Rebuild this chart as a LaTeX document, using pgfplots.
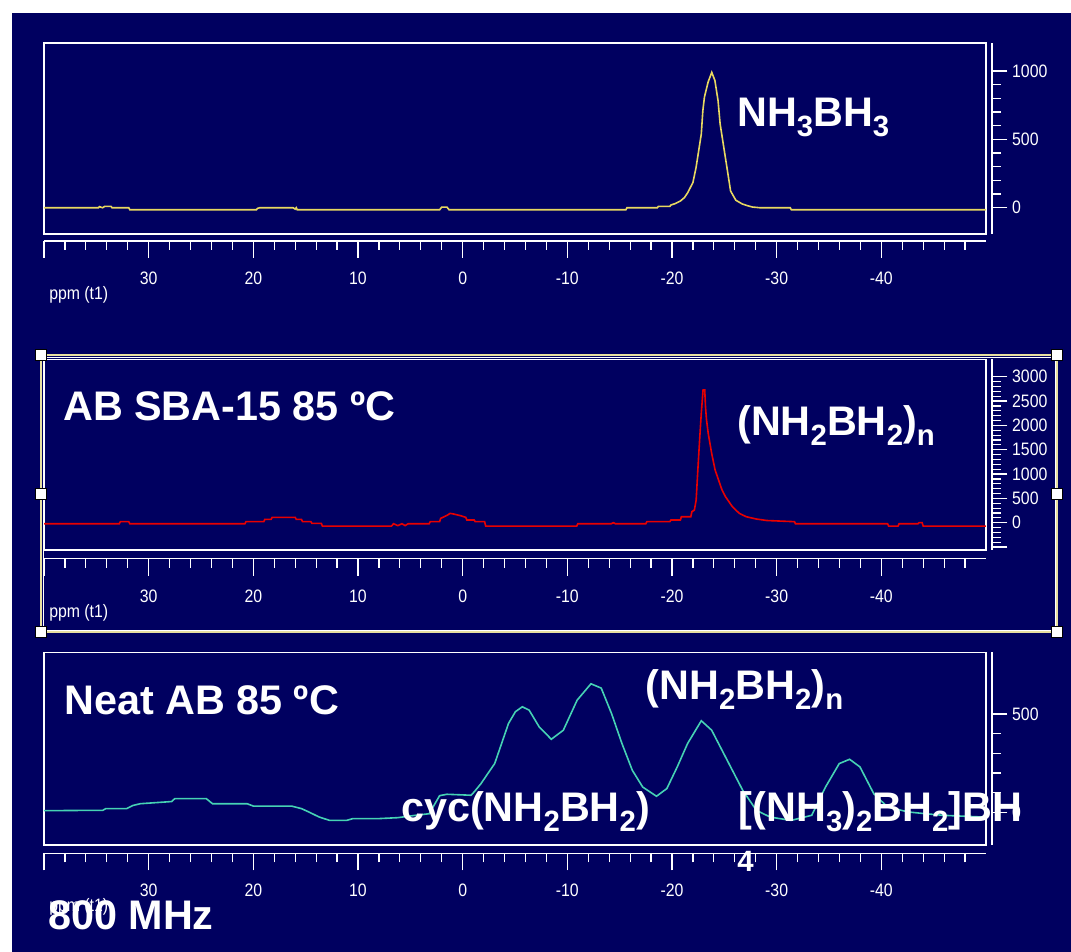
\documentclass[border=0pt]{standalone}
\usepackage{fontspec}
\setmainfont{Liberation Sans}
\newfontfamily\tickfont[FakeStretch=0.88]{Liberation Sans}
\usepackage{pgfplots}
\pgfplotsset{compat=1.18}
\definecolor{navy}{RGB}{0,0,96}
\definecolor{specyellow}{RGB}{232,216,96}
\definecolor{specred}{RGB}{232,0,0}
\definecolor{specturq}{RGB}{70,210,180}
\definecolor{framecream}{RGB}{232,224,160}
\newcommand\lab{\fontsize{31}{31}\selectfont\bfseries}
\newcommand\sub[1]{\raisebox{-7.5pt}{\fontsize{22}{22}\selectfont\bfseries #1}}
\newcommand\tf{\tickfont\fontsize{13.5}{13.5}\selectfont}
\pgfplotsset{
  boxax/.style={scale only axis, width=706.5pt, xmin=-50, xmax=40, x dir=reverse,
    xtick=\empty, ytick=\empty, axis line style={white, line width=1.2pt},
    anchor=south west, clip=true},
  yax/.style={scale only axis, width=1pt, xmin=0, xmax=1, axis x line=none,
    axis y line*=right, ytick align=outside, anchor=south east,
    axis line style={white, line width=1.1pt}, tick style={white, line width=0.9pt},
    major tick length=11.6pt, minor tick length=6.5pt,
    yticklabel style={font=\tf, text=white},
    minor y tick num=4, scaled y ticks=false,
    /pgf/number format/1000 sep={}, /pgf/number format/assume math mode=true},
  xax/.style={scale only axis, width=706.5pt, height=1pt, xmin=-50, xmax=40,
    ymin=0, ymax=1, x dir=reverse, axis y line=none, axis x line*=bottom,
    xtick align=outside, anchor=south west,
    xtick={40,30,20,10,0,-10,-20,-30,-40},
    xticklabels={,30,20,10,0,-10,-20,-30,-40},
    minor xtick={-48,-46,...,38},
    axis line style={white, line width=1.1pt}, tick style={white, line width=0.9pt},
    major tick length=12.75pt, minor tick length=6.75pt,
    xticklabel style={font=\tf, text=white, yshift=-7pt}},
}
\begin{document}
\begin{tikzpicture}
\path[use as bounding box, fill=white] (0,0) rectangle (803.25pt,714pt);
\fill[navy] (9pt,0) rectangle (803.25pt,704.25pt);

% ---------------- Panel 1 ----------------
\begin{axis}[boxax, at={(33pt,538.5pt)}, height=143.25pt, ymin=-192, ymax=1205]
\addplot[specyellow, line width=1.2pt] coordinates {
(40,0) (34.8,0) (34.7,8) (34.4,0) (34.2,10) (33.6,10) (33.5,0) (31.9,0) (31.8,-15)
(19.7,-15) (19.6,-5) (19.4,0) (16.2,0) (16.0,-10) (15.9,0) (15.8,-15) (2.2,-15)
(2.0,5) (1.5,5) (1.3,-15) (-15.6,-15) (-15.7,0) (-18.6,0) (-18.7,10) (-19.8,10)
(-19.9,20) (-20.3,30) (-20.8,49) (-21.2,75) (-21.5,110) (-22.0,184) (-22.3,294) (-22.5,392)
(-22.8,539) (-22.95,711) (-23.1,809) (-23.45,919) (-23.8,990) (-24.1,931)
(-24.4,784) (-24.6,613) (-24.9,466) (-25.3,270) (-25.6,122) (-26.1,55) (-26.7,28)
(-27.2,15) (-27.7,5) (-28.4,0) (-31.3,0) (-31.4,-15) (-50,-15)};
\end{axis}
\begin{axis}[yax, at={(744pt,538.5pt)}, height=143.25pt, ymin=-192, ymax=1205,
  ytick={0,500,1000}]
\end{axis}
\begin{axis}[xax, at={(33pt,533.25pt)}]
\end{axis}

% ---------------- Panel 2 ----------------
\begin{axis}[boxax, at={(33pt,301.5pt)}, height=143pt, ymin=-561, ymax=3358]
\addplot[specred, line width=1.2pt] coordinates {
(40,-21) (32.8,-21) (32.7,21) (31.9,21) (31.8,-21) (20.8,-21) (20.7,21) (19.0,21)
(18.9,69) (18.3,69) (18.2,110) (16.0,110) (15.9,69) (15.4,69) (15.3,21) (14.5,21)
(14.4,-14) (13.5,-14) (13.4,-69) (6.8,-69) (6.6,-21) (6.2,-60) (5.8,-21) (5.5,-60)
(5.2,-21) (3.2,-21) (3.1,21) (2.2,21) (2.1,89) (1.5,150) (1.2,192) (0.9,180)
(0.2,144) (-0.3,110) (-0.4,55) (-1.1,55) (-1.2,21) (-2.1,21) (-2.2,-69) (-10.9,-69)
(-11.0,-21) (-14.2,-21) (-14.4,0) (-14.6,-21) (-17.5,-21) (-17.6,21) (-19.8,21)
(-19.9,55) (-20.8,55) (-20.9,123) (-21.8,123) (-21.9,226) (-22.14,260) (-22.31,466)
(-22.47,1084) (-22.64,1701) (-22.80,2250) (-22.97,2730) (-23.13,2730) (-23.2,2387)
(-23.3,2113) (-23.46,1838) (-23.79,1427) (-24.12,1084) (-24.45,878) (-24.78,672)
(-25.11,535) (-25.77,329) (-26.43,192) (-27.09,123) (-28.07,75) (-29.06,45)
(-31.7,21) (-31.8,-21) (-40.6,-21) (-40.7,-69) (-41.6,-69) (-41.7,-21) (-43.5,-21)
(-43.6,0) (-43.9,0) (-44.0,-69) (-50,-69)};
\end{axis}
\begin{axis}[yax, at={(744pt,301.5pt)}, height=143pt, ymin=-561, ymax=3358,
  ytick={-500,0,500,1000,1500,2000,2500,3000},
  yticklabels={,0,500,1000,1500,2000,2500,3000}]
\end{axis}
\begin{axis}[xax, at={(33pt,295pt)}]
\end{axis}

% ---------------- Panel 3 ----------------
\begin{axis}[boxax, at={(33pt,80.25pt)}, height=144.5pt, ymin=-166, ymax=814]
\addplot[specturq, line width=1.2pt] coordinates {
(40,8.5) (36,10) (34.4,10) (34.1,19) (32.1,19) (31.5,35) (30.8,44) (27.8,55)
(27.5,70) (24.5,70) (23.9,44) (20.6,44) (20,32) (16.35,32) (15.4,19) (14.7,2)
(13.7,-24) (12.7,-41) (11.1,-41) (10.5,-32) (8.1,-32) (6.2,-27) (4.5,-15) (3.2,-7)
(2.2,85) (1.5,92) (-0.8,87) (-1.1,104) (-1.75,146) (-2.4,197) (-3.06,248)
(-3.72,350) (-4.38,452) (-5.04,512) (-5.7,537) (-6.35,520) (-7.31,435) (-8.47,372)
(-9.62,418) (-10.94,571) (-12.26,654) (-13.24,632) (-14.23,502) (-15.22,350)
(-16.21,214) (-17.2,129) (-18.52,82) (-19.51,121) (-20.5,231) (-21.49,350)
(-22.8,466) (-23.79,418) (-24.78,316) (-25.77,214) (-26.76,112) (-28.07,10)
(-29.39,-24) (-31.37,-41) (-33.35,-15) (-34.67,129) (-35.98,248) (-36.97,270)
(-37.96,231) (-39.28,95) (-40.6,27) (-42.58,2) (-44.23,-7) (-45.87,-15) (-49.83,-24)};
\end{axis}
\begin{axis}[yax, at={(744pt,80.25pt)}, height=144.5pt, ymin=-166, ymax=814,
  ytick={0,500}]
\end{axis}
\begin{axis}[xax, at={(33pt,74pt)}]
\end{axis}

% ---------------- axis names ----------------
\node[anchor=base west, inner sep=0pt, text=white, font=\tf] at (36.75pt,489.5pt) {ppm (t1)};
\node[anchor=base west, inner sep=0pt, text=white, font=\tf] at (36.75pt,250.5pt) {ppm (t1)};
\node[anchor=base west, inner sep=0pt, text=white, font=\tf] at (36.75pt,30.5pt) {ppm (t1)};

% ---------------- selection frame on panel 2 ----------------
\draw[framecream, line width=1.2pt] (30.75pt,447.75pt) rectangle (792.75pt,240pt);
\draw[white, line width=0.5pt] (32.3pt,446.2pt) rectangle (791.2pt,241.5pt);
\foreach \hx/\hy in {30.75/447.75, 792.75/447.75, 30.75/343.5, 792.75/343.5, 30.75/240, 792.75/240}
  \draw[black, fill=white, line width=0.8pt] (\hx pt-4pt,\hy pt-4pt) rectangle (\hx pt+4pt,\hy pt+4pt);

% ---------------- annotations ----------------
\node[anchor=base west, inner sep=0pt, text=white, font=\lab] at (552.75pt,619pt) {NH\sub{3}BH\sub{3}};
\node[anchor=base west, inner sep=0pt, text=white, font=\lab] at (47.25pt,398.5pt) {AB SBA-15 85 ºC};
\node[anchor=base west, inner sep=0pt, text=white, font=\lab] at (552.75pt,387pt) {(NH\sub{2}BH\sub{2})\sub{n}};
\node[anchor=base west, inner sep=0pt, text=white, font=\lab] at (48pt,177.75pt) {Neat AB 85 ºC};
\node[anchor=base west, inner sep=0pt, text=white, font=\lab] at (484.1pt,189pt) {(NH\sub{2}BH\sub{2})\sub{n}};
\node[anchor=base west, inner sep=0pt, text=white, font=\lab] at (300.75pt,97.5pt) {cyc(NH\sub{2}BH\sub{2})};
\node[anchor=base west, inner sep=0pt, text=white, font=\lab] at (553.95pt,97.5pt) {[(NH\sub{3})\sub{2}BH\sub{2}]BH};
\node[anchor=base west, inner sep=0pt, text=white, font=\fontsize{22}{22}\selectfont\bfseries] at (552.75pt,60pt) {4};
\node[anchor=base west, inner sep=0pt, text=white, font=\lab] at (36pt,16.5pt) {800 MHz};
\end{tikzpicture}
\end{document}
